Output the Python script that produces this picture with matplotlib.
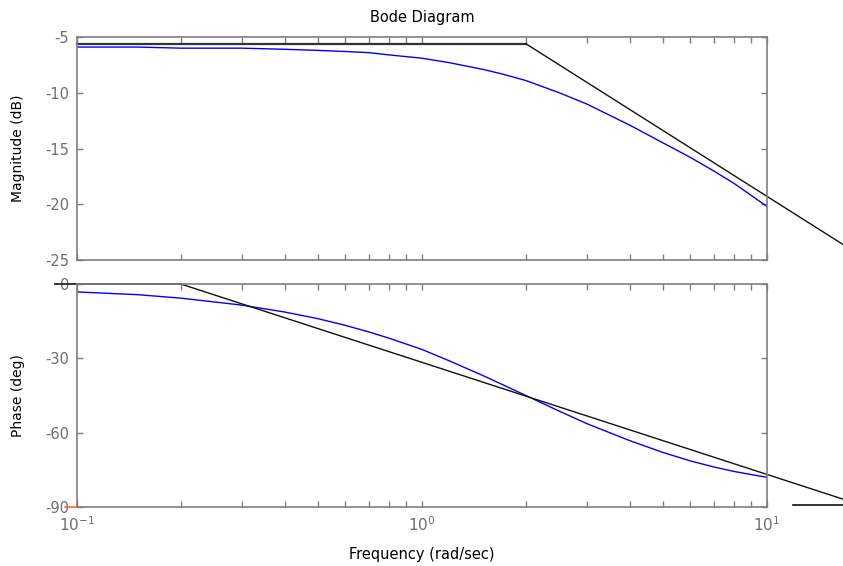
import matplotlib
matplotlib.use('Agg')
import matplotlib.pyplot as plt
from matplotlib.ticker import LogLocator, NullFormatter, FixedLocator

plt.rcParams['font.family'] = ['DejaVu Sans']
plt.rcParams['mathtext.fontset'] = 'dejavusans'
plt.rcParams['axes.unicode_minus'] = False

# frequency response
freq = [0.1, 0.15, 0.2, 0.3, 0.4, 0.5, 0.6, 0.7, 0.8, 1.0, 1.2, 1.5, 1.7,
        2.0, 2.5, 3.0, 4.0, 5.0, 6.0, 7.0, 8.0, 9.0, 10.0]
mag_db = [-5.9, -5.9, -6.0, -6.0, -6.1, -6.2, -6.3, -6.4, -6.6, -6.9, -7.3,
          -7.9, -8.3, -8.9, -10.0, -11.0, -12.9, -14.5, -15.8, -17.0, -18.1,
          -19.2, -20.2]
phase_deg = [-3.2, -4.3, -5.7, -8.5, -11.3, -14.0, -16.7, -19.3, -21.8, -26.4,
             -31.0, -36.9, -40.4, -45.0, -51.3, -56.3, -63.2, -68.0, -71.4,
             -73.8, -75.6, -76.9, -78.0]

# straight line approximations (drawn past the axes)
mag_asym_freq = [0.1, 2.0, 16.6]
mag_asym_db = [-5.6, -5.6, -23.6]
phase_asym_freq = [0.0865, 0.2, 16.6]
phase_asym_deg = [0, 0, -86.8]
phase_end_freq = [11.9, 16.6]
phase_end_deg = [-89, -89]
phase_mark_freq = [0.0923, 0.1]
phase_mark_deg = [-90, -90]

mag_ticks = [-25, -20, -15, -10, -5]
phase_ticks = [-90, -60, -30, 0]

gray = '#7f7f7f'
fs = 10.5


def style_axis(ax):
    ax.set_xscale('log')
    ax.set_xlim(0.1, 10)
    for s in ax.spines.values():
        s.set_color(gray)
        s.set_linewidth(1.2)
    ax.xaxis.set_major_locator(LogLocator(base=10, numticks=10))
    ax.xaxis.set_minor_locator(LogLocator(base=10, subs=range(2, 10), numticks=10))
    ax.xaxis.set_minor_formatter(NullFormatter())
    ax.tick_params(which='both', direction='in', top=True, right=True,
                   length=4, width=1, color=gray, labelcolor='#6e6e6e',
                   labelsize=fs)
    ax.tick_params(axis='y', pad=5.5)


fig = plt.figure(figsize=(8.43, 5.66), dpi=100)
ax_mag = fig.add_axes([0.0913, 0.5406, 0.8185, 0.394])
ax_ph = fig.add_axes([0.0913, 0.1042, 0.8185, 0.394])

ax_mag.plot(freq, mag_db, color='#0000ff', lw=1)
ax_mag.plot(mag_asym_freq[:2], mag_asym_db[:2], color='#333333', lw=1.6, clip_on=False)
ax_mag.plot(mag_asym_freq[1:], mag_asym_db[1:], color='#111111', lw=1, clip_on=False)
style_axis(ax_mag)
ax_mag.set_ylim(-25, -5)
ax_mag.yaxis.set_major_locator(FixedLocator(mag_ticks))
ax_mag.set_xticklabels([])
ax_mag.set_ylabel('Magnitude (dB)', fontsize=10)
ax_mag.yaxis.set_label_coords(-0.0754, 0.5)
ax_mag.set_title('Bode Diagram', fontsize=fs, pad=11)

ax_ph.plot(freq, phase_deg, color='#0000ff', lw=1)
ax_ph.plot(phase_asym_freq[:2], phase_asym_deg[:2], color='#333333', lw=1.4, clip_on=False)
ax_ph.plot(phase_asym_freq[1:], phase_asym_deg[1:], color='#111111', lw=1, clip_on=False)
ax_ph.plot(phase_end_freq, phase_end_deg, color='#111111', lw=1.2, clip_on=False)
ax_ph.plot(phase_mark_freq, phase_mark_deg, color='#ff6a33', lw=1.2, clip_on=False)
style_axis(ax_ph)
ax_ph.set_ylim(-90, 0)
ax_ph.yaxis.set_major_locator(FixedLocator(phase_ticks))
ax_ph.set_ylabel('Phase (deg)', fontsize=10)
ax_ph.yaxis.set_label_coords(-0.0754, 0.5)
ax_ph.set_xlabel('Frequency (rad/sec)', fontsize=fs, labelpad=9)
ax_ph.tick_params(axis='x', which='major', labelsize=11, pad=6)

fig.savefig('out.png', dpi=100)
